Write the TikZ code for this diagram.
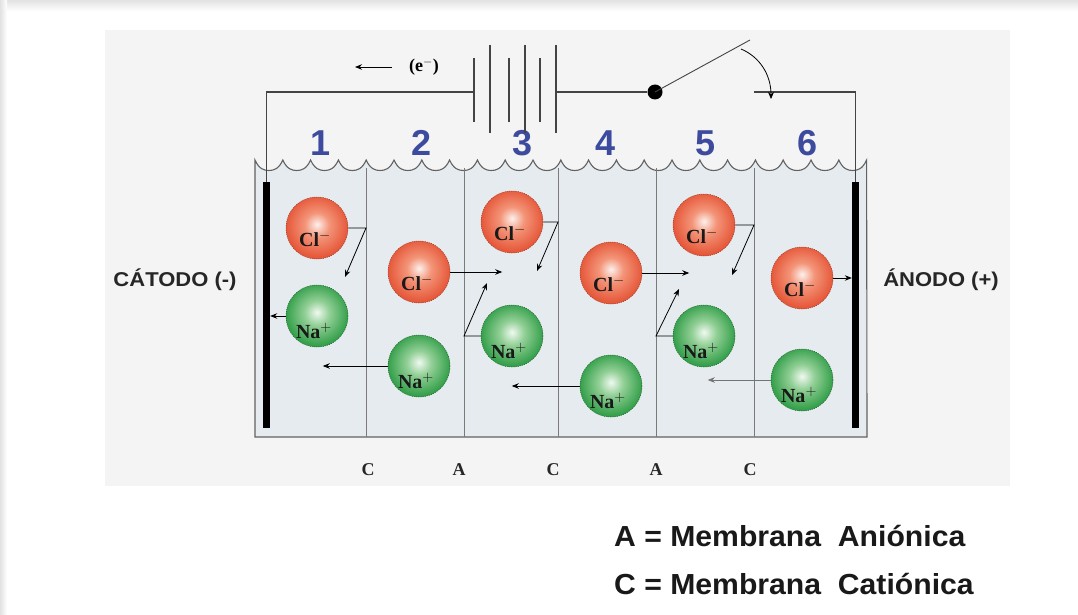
\documentclass[tikz,border=0pt]{standalone}
\usepackage{fontspec}
\setmainfont{Liberation Serif}
\newfontfamily\lsans{Liberation Sans}
\usetikzlibrary{arrows.meta}

\definecolor{panel}{HTML}{F4F4F4}
\definecolor{edgeshadow}{HTML}{E2E2E2}
\definecolor{tankfill}{HTML}{E6EBEF}
\definecolor{tankline}{HTML}{626262}
\definecolor{wirecol}{HTML}{444444}
\definecolor{numblue}{HTML}{3D4B9E}
\definecolor{clout}{HTML}{E6583A}
\definecolor{clmid}{HTML}{F39478}
\definecolor{clin}{HTML}{FDF0EC}
\definecolor{naout}{HTML}{35A04B}
\definecolor{namid}{HTML}{92CF96}
\definecolor{nain}{HTML}{F0F9F0}

% ion balls: light centre, saturated rim
\pgfdeclareradialshading{clball}{\pgfpoint{0bp}{3bp}}{color(0bp)=(clin); color(10bp)=(clmid); color(25bp)=(clout); color(50bp)=(clout)}
\pgfdeclareradialshading{naball}{\pgfpoint{0bp}{3bp}}{color(0bp)=(nain); color(10bp)=(namid); color(25bp)=(naout); color(50bp)=(naout)}

\begin{document}
\begin{tikzpicture}[x=1pt,y=-1pt,
  wire/.style={draw=wirecol, line width=1.1pt},
  plate/.style={draw=wirecol, line width=1.2pt},
  membrane/.style={draw=tankline!85, line width=0.9pt},
  flow/.style={draw=black, line width=0.8pt, -{Stealth[length=7pt,width=5.5pt]}},
  faintflow/.style={draw=black!55, line width=0.6pt, -{Stealth[length=7pt,width=5.5pt]}},
  clion/.style={circle, minimum size=62pt, inner sep=0pt, shading=clball,
    draw=clout!65!black, line width=0.5pt, dash pattern=on 1.2pt off 1pt},
  naion/.style={circle, minimum size=62pt, inner sep=0pt, shading=naball,
    draw=naout!60!black, line width=0.5pt, dash pattern=on 1.2pt off 1pt},
  ionlbl/.style={font=\bfseries\fontsize{20}{22}\selectfont, text=black!90, inner sep=0pt},
  electrode/.style={fill=black, draw=none, minimum width=7pt, minimum height=246pt, inner sep=0pt},
  cellnum/.style={font=\lsans\bfseries\fontsize{36}{38}\selectfont, text=numblue, inner sep=0pt},
  memlbl/.style={font=\bfseries\fontsize{18}{20}\selectfont, text=black!85, inner sep=0pt},
  sidelbl/.style={font=\lsans\bfseries\fontsize{20}{22}\selectfont, text=black!85, xscale=1.1, inner sep=0pt},
  legend/.style={font=\lsans\bfseries\fontsize{29}{31}\selectfont, text=black!90, anchor=west, xscale=1.04, inner sep=0pt}
]
\useasboundingbox (0,0) rectangle (1078,615);
\fill[white] (0,0) rectangle (1078,615);
\shade[top color=edgeshadow, bottom color=white] (0,0) rectangle (1078,11);
\shade[left color=edgeshadow, right color=white] (0,0) rectangle (7,615);
\fill[panel] (105,30) rectangle (1010,486);

% tank with wavy water surface
\draw[fill=tankfill, draw=tankline, line width=1.1pt] (255,160)
  \foreach \i in {0,...,21} {
    .. controls ({255+27.8*\i+4},169) and ({255+27.8*\i+9},170.5) .. ({255+27.8*\i+13.9},170.5)
    .. controls ({255+27.8*\i+18.8},170.5) and ({255+27.8*\i+23.8},169) .. ({255+27.8*(\i+1)},160)
  } -- (867,437) -- (255,437) -- cycle;

% membranes
\foreach \n/\x in {1/366,2/464,3/558,4/656,5/754} {
  \coordinate (m\n) at (\x,168);
  \coordinate (mb\n) at (\x,437);
  \draw[membrane] (m\n) -- (mb\n);
}

% electrodes
\node[electrode] (cat) at (266.5,305) {};
\node[electrode] (an) at (855.5,305) {};

% compartment numbers
\foreach \n/\x in {1/321,2/422,3/523,4/606,5/706,6/807}
  \node[cellnum] (num\n) at (\x,143) {\n};

% ions
\foreach \n/\xc/\yc/\xn/\yn in {1/317/228/317/316, 2/419/272/419/366, 3/512/222/512/336,
                                4/611/273/611/386, 5/704/225/704/336, 6/802/278/802/380} {
  \node[clion] (cl\n) at (\xc,\yc) {};
  \node[ionlbl] (cl\n-t) at ([xshift=-2pt,yshift=-11pt]cl\n.center) {Cl$^{-}$};
  \node[naion] (na\n) at (\xn,\yn) {};
  \node[ionlbl] (na\n-t) at ([xshift=-3pt,yshift=-15pt]na\n.center) {Na$^{+}$};
}

% ion migration
\draw[flow] (cl1.east) -- (cl1.east -| m1) -- ++(-21,49);
\draw[flow] (na1.west) -- (na1.west -| cat.east);
\draw[flow] (na2.west) -- ++(-65,0);
\draw[flow] (cl2.east) -- ++(52,0);
\draw[flow] (na3.west) -- (na3.west -| m2) -- ++(23,-53);
\draw[flow] (cl3.east) -- (cl3.east -| m3) -- ++(-21,49);
\draw[flow] (na4.west) -- ++(-68,0);
\draw[flow] (cl4.east) -- ++(47,0);
\draw[flow] (na5.west) -- (na5.west -| m4) -- ++(23,-47);
\draw[flow] (cl5.east) -- (cl5.east -| m5) -- ++(-22,50);
\draw[faintflow] (na6.west) -- ++(-63,0);
\draw[flow] (cl6.east) -- (cl6.east -| an.west);

% external circuit: battery and switch
\coordinate (bl) at (474,92);
\coordinate (br) at (556,92);
\coordinate (sc) at (754,92);
\coordinate (lever) at (750,40);
\node[circle, fill=black, minimum size=15pt, inner sep=0pt] (piv) at (655,92) {};
\draw[wire] (cat.north) |- (bl);
\draw[wire] (br) -- (piv);
\draw[wire] (sc) -| (an.north);
\foreach \x/\t/\b in {474/58/122, 490/45/133, 509/58/122, 525/45/133, 540/58/122, 556/45/133}
  \draw[plate] (\x,\t) -- (\x,\b);
\draw[draw=wirecol, line width=0.9pt] (piv.center) -- (lever);
\coordinate (swa) at (741,49);
\coordinate (swb) at (771,99);
\draw[draw=black, line width=0.8pt, -{Stealth[length=7pt,width=6pt]}] (swa) .. controls (760,57) and (771,75) .. (swb);

% electron flow
\coordinate (ea) at (392,67);
\coordinate (eb) at (355,67);
\draw[flow] (ea) -- (eb);
\node[font=\bfseries\fontsize{18}{20}\selectfont, inner sep=0pt] (elec) at (424,67) {(e$^{-}$)};

% membrane type labels
\foreach \n/\x/\t in {1/368/C, 2/459/A, 3/553/C, 4/656/A, 5/750/C}
  \node[memlbl] (ml\n) at (\x,470) {\t};

% electrode labels
\node[sidelbl] (catlbl) at (175,280) {CÁTODO (-)};
\node[sidelbl] (anlbl) at (941,280) {ÁNODO (+)};

% legend
\node[legend] (legA) at (614,536) {A = Membrana\ \ Aniónica};
\node[legend] (legC) at (614,584) {C = Membrana\ \ Catiónica};
\end{tikzpicture}
\end{document}
